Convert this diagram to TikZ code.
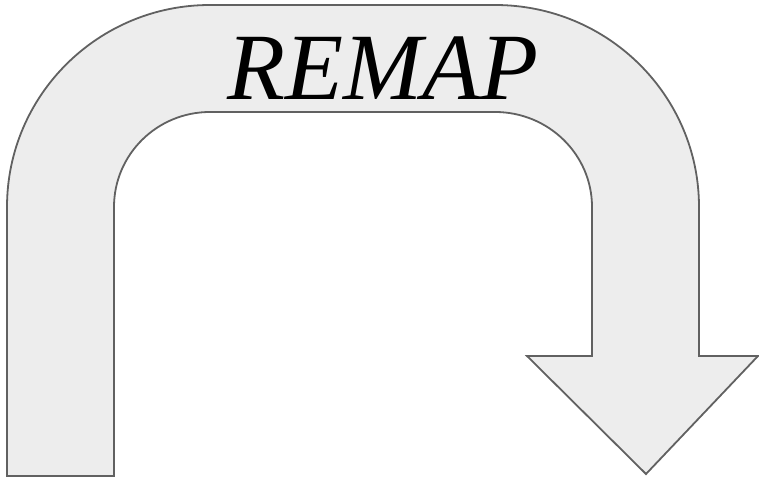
\documentclass[tikz,border=0pt]{standalone}
\usepackage{fontspec}
\setmainfont{Liberation Serif}
\begin{document}
\begin{tikzpicture}[x=1pt,y=1pt,
  uarrow/.style={draw=black!62,fill=black!7,line width=1.8pt,line join=miter},
  label/.style={inner sep=0pt,font=\fontsize{95}{95}\selectfont\itshape}]
\useasboundingbox (0,0) rectangle (759,478);
\draw[uarrow] (7,2) -- (7,271)
  arc[start angle=180,end angle=90,x radius=203,y radius=202]
  -- (495,473)
  arc[start angle=90,end angle=0,x radius=204,y radius=202]
  -- (699,122) -- (758,122) -- (646,4) -- (527,122) -- (592,122) -- (592,271)
  arc[start angle=0,end angle=90,x radius=97,y radius=95]
  -- (210,366)
  arc[start angle=90,end angle=180,x radius=96,y radius=95]
  -- (114,2) -- cycle;
\node[label,anchor=base] (remap) at (383,378) {REMAP};
\end{tikzpicture}
\end{document}
